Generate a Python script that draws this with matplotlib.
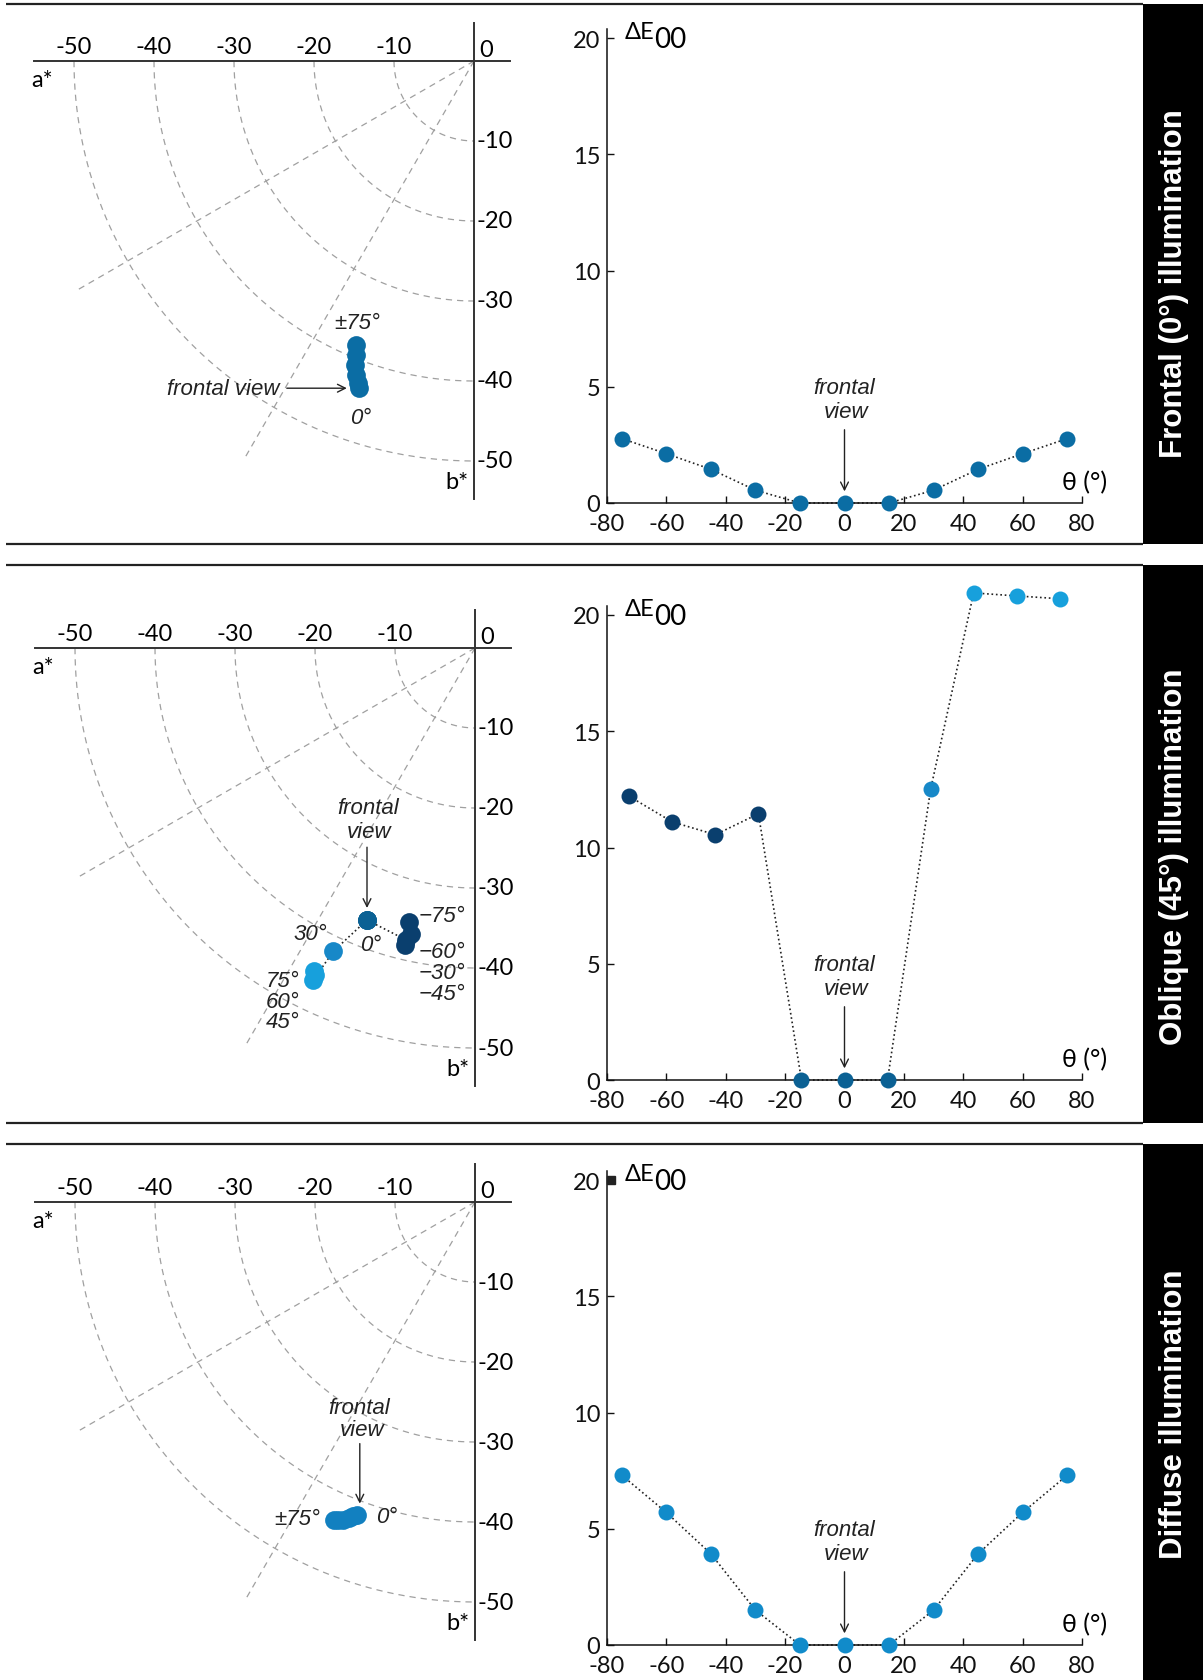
import numpy as np
import matplotlib
matplotlib.use('Agg')
import matplotlib.pyplot as plt
from matplotlib.patches import Rectangle

plt.rcParams['font.family'] = ['Lato', 'DejaVu Sans']
plt.rcParams['axes.unicode_minus'] = False

W, H = 1203, 1681
DPI = 100

# ---------------- data ----------------
row_titles = ['Frontal (0°) illumination', 'Oblique (45°) illumination', 'Diffuse illumination']

# Colour difference ΔE00 versus viewing angle θ
theta_frontal = [-75, -60, -45, -30, -15, 0, 15, 30, 45, 60, 75]
de_frontal = [2.77, 2.12, 1.45, 0.55, 0, 0, 0, 0.55, 1.45, 2.12, 2.77]

theta_oblique = [-72.5, -58, -43.5, -29, -14.5, 0, 14.5, 29, 43.5, 58, 72.5]
de_oblique = [12.2, 11.1, 10.55, 11.45, 0, 0, 0, 12.5, 20.95, 20.82, 20.7]

theta_diffuse = [-75, -60, -45, -30, -15, 0, 15, 30, 45, 60, 75]
de_diffuse = [7.3, 5.7, 3.92, 1.5, 0, 0, 0, 1.5, 3.92, 5.7, 7.3]

# a*b* coordinates (viewing angle order)
ang_frontal_ab = [0, 15, 30, 45, 60, 75]
a_frontal = [-14.4, -14.5, -14.8, -14.9, -14.8, -14.7]
b_frontal = [-40.9, -40.2, -39.3, -38.0, -36.7, -35.5]

ang_oblique_ab = [-75, -60, -45, -30, -15, 0, 15, 30, 45, 60, 75]
a_oblique = [-8.3, -8.0, -8.8, -8.6, -13.5, -13.5, -13.5, -17.7, -20.2, -20.0, -20.1]
b_oblique = [-34.3, -35.8, -37.1, -36.5, -34.0, -34.0, -34.0, -37.9, -41.5, -40.9, -40.4]

ang_diffuse_ab = [0, 15, 30, 45, 60, 75]
a_diffuse = [-14.7, -15.2, -15.8, -16.5, -17.1, -17.6]
b_diffuse = [-39.1, -39.3, -39.5, -39.7, -39.8, -39.8]

# colours
c_frontal = '#0b6da4'
c_navy = '#0a3f6e'
c_mid = '#0b6194'
c_med = '#1788c8'
c_light = '#17a0dc'
c_diffuse = '#118bca'
c_diffuse_ab = '#1280c0'
col_oblique = [c_navy] * 4 + [c_mid] * 3 + [c_med] + [c_light] * 3

a_ticks = [-50, -40, -30, -20, -10]
b_ticks = [-10, -20, -30, -40, -50]
x_ticks = [-80, -60, -40, -20, 0, 20, 40, 60, 80]
y_ticks = [0, 5, 10, 15, 20]

# ---------------- layout helpers ----------------
fig = plt.figure(figsize=(W / DPI, H / DPI), dpi=DPI)


def px_axes(l, t, w, h):
    ax = fig.add_axes([l / W, 1 - (t + h) / H, w / W, h / H])
    ax.patch.set_visible(False)
    return ax


bg = px_axes(0, 0, W, H)
bg.set_xlim(0, W)
bg.set_ylim(H, 0)
bg.axis('off')

row_top = [5, 566, 1145]
row_bot = [545, 1124, 1681]
title_cy = [284, 857, 1414]
for i in range(3):
    bg.plot([6, 1143], [row_top[i], row_top[i]], color='#222222', lw=1.6, solid_capstyle='butt')
    if i < 2:
        bg.plot([6, 1143], [row_bot[i], row_bot[i]], color='#222222', lw=1.6, solid_capstyle='butt')
    bg.add_patch(Rectangle((1143, row_top[i]), 60, row_bot[i] - row_top[i], color='black', lw=0))
    bg.text(1174, title_cy[i], row_titles[i], rotation=90, color='white', fontsize=22.5,
            fontweight='bold', family=['Liberation Sans', 'DejaVu Sans'], ha='center', va='center')

italic_fam = ['Liberation Sans Narrow', 'Liberation Sans', 'DejaVu Sans']
TS = 17  # tick label size

# ---------------- left a*b* panels ----------------
S = 8.0
origins = [(474, 62), (475, 649), (475, 1203)]


def ab_panel(ox, oy):
    ax = px_axes(ox - 57 * S, oy - 7 * S, 63 * S, 64 * S)
    ax.set_xlim(-57, 6)
    ax.set_ylim(-57, 7)
    ax.axis('off')
    t = np.linspace(np.pi, 1.5 * np.pi, 200)
    for r in [10, 20, 30, 40, 50]:
        ax.plot(r * np.cos(t), r * np.sin(t), color='#a0a0a0', lw=0.9, ls=(0, (5, 4)))
    for deg in [210, 240]:
        rr = np.deg2rad(deg)
        ax.plot([0, 57.5 * np.cos(rr)], [0, 57.5 * np.sin(rr)], color='#a0a0a0', lw=0.9, ls=(0, (5, 4)))
    ax.plot([-55, 4.5], [0, 0], color='#333333', lw=1.4)
    ax.plot([0, 0], [4.8, -54.7], color='#333333', lw=1.4)
    for v in a_ticks:
        ax.text(v, 1.8, str(v), ha='center', va='center', fontsize=TS)
    ax.text(0.6, 1.4, '0', ha='left', va='center', fontsize=TS)
    for v in b_ticks:
        ax.text(0.3, v, str(v), ha='left', va='center', fontsize=TS)
    ax.text(-54, -2.3, 'a*', ha='center', va='center', fontsize=TS)
    ax.text(-2.1, -52.6, 'b*', ha='center', va='center', fontsize=TS)
    return ax


def arrow(ax, x0, y0, x1, y1):
    ax.annotate('', xy=(x1, y1), xytext=(x0, y0),
                arrowprops=dict(arrowstyle='->', color='#222222', lw=1.0, mutation_scale=14,
                                shrinkA=0, shrinkB=0))


def itext(ax, x, y, s, ha='center', size=16):
    ax.text(x, y, s, ha=ha, va='center', fontsize=size, style='italic', family=italic_fam,
            color='#222222')


MS_AB = 13.5

# Row 1
ax = ab_panel(*origins[0])
ax.plot(a_frontal[::-1], b_frontal[::-1], 'o', color=c_frontal, ms=MS_AB, mec='none')
itext(ax, -14.6, -32.7, '±75°')
itext(ax, -14.2, -44.5, '0°')
itext(ax, -24.3, -40.9, 'frontal view', ha='right')
arrow(ax, -23.4, -40.9, -15.9, -40.9)

# Row 2
ax = ab_panel(*origins[1])
ax.plot(a_oblique, b_oblique, ls=':', color='#222222', lw=1.2, zorder=2)
for i in range(len(a_oblique) - 1, -1, -1):
    ax.plot(a_oblique[i], b_oblique[i], 'o', color=col_oblique[i], ms=MS_AB, mec='none', zorder=3)
itext(ax, -13.4, -20.0, 'frontal')
itext(ax, -13.2, -23.0, 'view')
arrow(ax, -13.5, -24.9, -13.5, -32.5)
itext(ax, -20.6, -35.7, '30°')
itext(ax, -13.0, -37.1, '0°')
itext(ax, -7.0, -33.4, '−75°', ha='left')
itext(ax, -7.0, -37.9, '−60°', ha='left')
itext(ax, -7.0, -40.6, '−30°', ha='left')
itext(ax, -7.0, -43.2, '−45°', ha='left')
itext(ax, -21.9, -41.6, '75°', ha='right')
itext(ax, -21.9, -44.2, '60°', ha='right')
itext(ax, -21.9, -46.7, '45°', ha='right')

# Row 3
ax = ab_panel(*origins[2])
ax.plot(a_diffuse[::-1], b_diffuse[::-1], 'o', color=c_diffuse_ab, ms=MS_AB, mec='none')
itext(ax, -14.5, -25.7, 'frontal')
itext(ax, -14.1, -28.4, 'view')
arrow(ax, -14.4, -30.2, -14.4, -37.7)
itext(ax, -19.4, -39.6, '±75°', ha='right')
itext(ax, -12.4, -39.3, '0°', ha='left')

# ---------------- right ΔE00 panels ----------------
y0_px = [504, 1081, 1646]
SY = 23.25
YTOP = 20.4


def de_panel(y0, theta, de, colors):
    h = YTOP * SY
    ax = px_axes(607, y0 - h, 475, h)
    ax.set_xlim(-80, 80)
    ax.set_ylim(0, YTOP)
    for sp in ['top', 'right']:
        ax.spines[sp].set_visible(False)
    for sp in ['left', 'bottom']:
        ax.spines[sp].set_color('#111111')
        ax.spines[sp].set_linewidth(1.1)
    ax.set_xticks(x_ticks)
    ax.set_yticks(y_ticks)
    ax.tick_params(direction='in', length=5, width=1, labelsize=TS, colors='#111111')
    ax.tick_params(axis='x', pad=7)
    ax.tick_params(axis='y', pad=5)
    ax.plot(theta, de, ls=':', color='#222222', lw=1.2, zorder=2, clip_on=False)
    for t_, d_, c_ in zip(theta, de, colors):
        ax.plot(t_, d_, 'o', color=c_, ms=11.5, mec='none', zorder=3, clip_on=False)
    ax.text(-74.2, 20.0, 'ΔE', ha='left', va='baseline', fontsize=17)
    ax.text(-64.0, 19.6, '00', ha='left', va='baseline', fontsize=20)
    ax.text(81, 0.4, 'θ (°)', ha='center', va='bottom', fontsize=18)
    itext(ax, 0, 4.95, 'frontal')
    itext(ax, 0.4, 3.95, 'view')
    arrow(ax, 0, 3.15, 0, 0.5)
    return ax


de_panel(y0_px[0], theta_frontal, de_frontal, [c_frontal] * 11)
de_panel(y0_px[1], theta_oblique, de_oblique, col_oblique)
ax3 = de_panel(y0_px[2], theta_diffuse, de_diffuse, [c_diffuse] * 11)
ax3.plot(-78.6, 20, 's', color='#222222', ms=6, clip_on=False, zorder=4)

fig.savefig('out.png', dpi=DPI)
